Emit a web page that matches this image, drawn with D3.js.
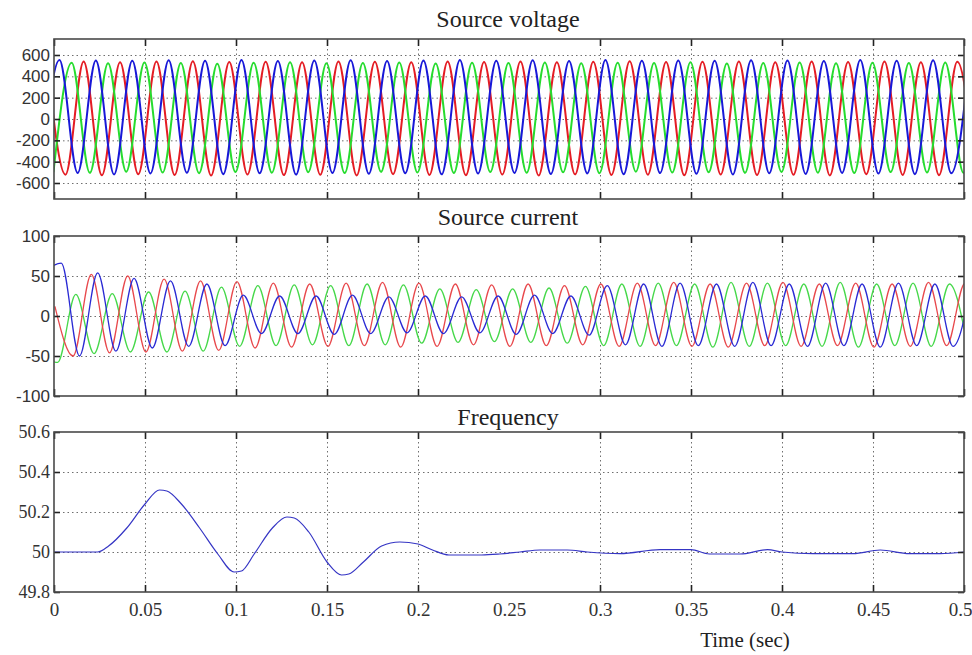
<!DOCTYPE html>
<html>
<head>
<meta charset="utf-8">
<script src="https://cdn.jsdelivr.net/npm/d3@7"></script>
<style>
  body { margin: 0; background: #fff; }
  svg { display: block; }
  .frame { fill: none; stroke: #4a4a4a; stroke-width: 1.6; }
  .grid line { stroke: #6f6f6f; stroke-width: 1; stroke-dasharray: 1.5,3; }
  .grid path, .ticks path { display: none; }
  .ticks line { stroke: #222; stroke-width: 1.6; }
  .title { font-family: "Liberation Serif", serif; font-size: 24px; fill: #222; }
  .sans text { font-family: "Liberation Sans", sans-serif; font-size: 17px; fill: #333; }
  .serif text { font-family: "Liberation Serif", serif; font-size: 18px; fill: #333; }
  .xlab text { font-family: "Liberation Serif", serif; font-size: 19px; fill: #333; }
  .wave { fill: none; stroke-linejoin: round; }
</style>
</head>
<body>
<script>
  // x axis (time, s)
  var timeTicks = [0, 0.05, 0.1, 0.15, 0.2, 0.25, 0.3, 0.35, 0.4, 0.45, 0.5];
  var timeLabels = ["0", "0.05", "0.1", "0.15", "0.2", "0.25", "0.3", "0.35", "0.4", "0.45", "0.5"];
  // the original plot has no tick / grid line drawn at 0.25
  var timeMarks = [0, 0.05, 0.1, 0.15, 0.2, 0.3, 0.35, 0.4, 0.45, 0.5];

  var voltTicks = [-600, -400, -200, 0, 200, 400, 600];
  var currTicks = [-100, -50, 0, 50, 100];
  var freqTicks = [49.8, 50, 50.2, 50.4, 50.6];

  // extremes of each phase come every half cycle (50 Hz)
  var halfCycle = 0.01;

  // source voltage: first extreme time + successive peak/trough values
  var voltBlueT0 = -0.007;
  var voltBlue = [-512, 552, -506, 548, -520, 545, -510, 550, -504, 546, -517, 553, -509, 544,
    -521, 549, -507, 551, -514, 543, -509, 548, -519, 552, -511, 546, -506, 550, -516, 544,
    -510, 553, -518, 547, -507, 549, -513, 545, -520, 551, -509, 548, -515, 544, -506, 552,
    -512, 546, -517, 550, -508, 547];
  var voltGreenT0 = -0.0003;
  var voltGreen = [-498, 528, -505, 522, -494, 530, -502, 525, -508, 519, -496, 527, -503, 531,
    -499, 523, -507, 526, -495, 529, -501, 521, -506, 528, -497, 524, -504, 530, -500, 522,
    -508, 527, -494, 525, -502, 531, -499, 520, -505, 526, -496, 529, -503, 523, -507, 527,
    -498, 524, -501, 530, -504, 525];
  var voltRedT0 = -0.0037;
  var voltRed = [535, -522, 540, -528, 532, -518, 538, -525, 541, -530, 534, -520, 537, -526,
    531, -523, 539, -529, 536, -517, 533, -524, 540, -527, 535, -521, 538, -530, 532, -519,
    537, -525, 541, -522, 534, -528, 536, -520, 539, -526, 533, -523, 538, -529, 535, -518,
    540, -524, 532, -527, 537, -521];

  // source current
  var currBlueT0 = -0.006;
  var currBlue = [55, 66, -50, 54, -44, 47, -40, 44, -38, 40, -37, 26, -22, 25, -22, 25, -23, 26,
    -22, 24, -21, 25, -22, 24, -21, 25, -23, 26, -22, 25, -24, 38, -36, 40, -38, 41, -37, 40,
    -38, 42, -37, 40, -38, 41, -37, 40, -39, 41, -37, 40, -38, 40];
  var currRedT0 = 0.0005;
  var currRed = [12, -50, 52, -46, 50, -45, 46, -44, 44, -43, 43, -40, 41, -39, 40, -38, 41, -37,
    42, -39, 41, -38, 40, -36, 39, -38, 40, -37, 38, -36, 40, -38, 41, -37, 42, -38, 40, -39,
    41, -37, 42, -38, 40, -37, 41, -39, 40, -38, 42, -37, 41, -38];
  var currGreenT0 = -0.008;
  var currGreen = [-48, -58, 27, -47, 28, -45, 30, -45, 31, -44, 36, -38, 38, -37, 39, -36, 38, -37,
    40, -36, 39, -34, 34, -33, 33, -32, 34, -33, 35, -34, 37, -37, 40, -38, 41, -37, 40, -39,
    42, -38, 41, -37, 40, -38, 42, -39, 40, -37, 41, -38, 40, -38];

  // frequency (Hz)
  var freqTime = [0, 0.024, 0.03, 0.04, 0.05, 0.058, 0.062, 0.07, 0.08, 0.09, 0.099, 0.103, 0.11,
    0.12, 0.128, 0.132, 0.14, 0.15, 0.158, 0.162, 0.17, 0.18, 0.19, 0.2, 0.208, 0.217, 0.235,
    0.245, 0.256, 0.267, 0.282, 0.293, 0.311, 0.333, 0.35, 0.36, 0.377, 0.392, 0.4, 0.417,
    0.439, 0.454, 0.47, 0.487, 0.5];
  var freqValue = [50, 50, 50.03, 50.12, 50.24, 50.31, 50.305, 50.24, 50.12, 49.99, 49.9, 49.905,
    49.99, 50.12, 50.175, 50.17, 50.1, 49.95, 49.885, 49.89, 49.95, 50.03, 50.05, 50.04, 50.01,
    49.985, 49.985, 49.99, 50.0, 50.01, 50.01, 50.0, 49.992, 50.012, 50.012, 49.99, 49.99,
    50.012, 50.0, 49.992, 49.992, 50.01, 49.992, 49.992, 50.0];

  var w = 972;
  var h = 655;
  var left = 54;
  var width = 910;
  var height = 160;

  var svg = d3.select("body").append("svg")
              .attr("width", w)
              .attr("height", h);

  var x = d3.scaleLinear().domain([0, 0.5]).range([0, width]);

  function extremes(t0, vals) {
    return vals.map(function(v, i){ return [t0 + i * halfCycle, v]; });
  }

  function plot(params) {
    var y = d3.scaleLinear().domain(params.domain).range([height, 0]);
    var g = svg.append("g")
               .attr("transform", "translate(" + left + "," + params.top + ")");

    g.append("clipPath").attr("id", params.id)
      .append("rect").attr("width", width).attr("height", height);

    // grid
    g.append("g").classed("grid", true)
      .call(d3.axisLeft(y).tickValues(params.grid).tickSize(-width).tickFormat(""));
    g.append("g").classed("grid", true)
      .attr("transform", "translate(0," + height + ")")
      .call(d3.axisBottom(x).tickValues(timeMarks.slice(1, -1)).tickSize(-height).tickFormat(""));

    var line = d3.line()
                 .x(function(d){ return x(d[0]); })
                 .y(function(d){ return y(d[1]); })
                 .curve(d3.curveMonotoneX);

    var lines = g.append("g").attr("clip-path", "url(#" + params.id + ")");
    params.series.forEach(function(s){
      lines.append("path")
        .classed("wave", true)
        .attr("d", line(s.points))
        .attr("stroke", s.color)
        .attr("stroke-width", s.width);
    });

    // box ticks, pointing inward
    g.append("g").classed("ticks", true).classed(params.font, true)
      .call(d3.axisLeft(y).tickValues(params.ticks).tickSizeInner(-6).tickSizeOuter(0)
              .tickPadding(4).tickFormat(function(d){ return String(d); }));
    g.append("g").classed("ticks", true)
      .attr("transform", "translate(" + width + ",0)")
      .call(d3.axisRight(y).tickValues(params.ticks).tickSize(-6).tickFormat(""));
    g.append("g").classed("ticks", true)
      .call(d3.axisTop(x).tickValues(timeMarks).tickSize(-7).tickFormat(""));
    g.append("g").classed("ticks", true)
      .attr("transform", "translate(0," + height + ")")
      .call(d3.axisBottom(x).tickValues(timeMarks).tickSize(-7).tickFormat(""));

    if (params.xLabels) {
      var labels = g.append("g").classed("xlab", true)
        .attr("transform", "translate(0," + height + ")")
        .call(d3.axisBottom(x).tickValues(timeTicks).tickSize(0).tickPadding(11)
                .tickFormat(function(d, i){ return timeLabels[i]; }));
      labels.select(".domain").remove();
      labels.selectAll("line").remove();
      // keep the last label inside the page
      labels.selectAll("text").filter(function(d){ return d === 0.5; })
        .attr("text-anchor", "end").attr("dx", 8);
    }

    g.append("rect").classed("frame", true)
      .attr("width", width).attr("height", height);

    g.append("text").classed("title", true)
      .attr("x", width / 2 - 1)
      .attr("y", params.titleY)
      .attr("text-anchor", "middle")
      .text(params.title);
  }

  plot({
    id: "clipV", top: 39, domain: [-750, 750], ticks: voltTicks, grid: voltTicks,
    font: "sans", title: "Source voltage", titleY: -12,
    series: [
      {points: extremes(voltRedT0, voltRed), color: "#e41c24", width: 2},
      {points: extremes(voltGreenT0, voltGreen), color: "#26dc2e", width: 2},
      {points: extremes(voltBlueT0, voltBlue), color: "#1818d8", width: 2}
    ]
  });

  plot({
    id: "clipI", top: 236, domain: [-100, 100], ticks: currTicks, grid: [-50, 0, 50],
    font: "sans", title: "Source current", titleY: -11,
    series: [
      {points: extremes(currGreenT0, currGreen), color: "#46d84a", width: 1.3},
      {points: extremes(currRedT0, currRed), color: "#e8484c", width: 1.3},
      {points: extremes(currBlueT0, currBlue), color: "#2a2ad4", width: 1.3}
    ]
  });

  plot({
    id: "clipF", top: 432, domain: [49.8, 50.6], ticks: freqTicks, grid: [50, 50.2, 50.4],
    font: "serif", title: "Frequency", titleY: -7, xLabels: true,
    series: [
      {points: freqTime.map(function(t, i){ return [t, freqValue[i]]; }), color: "#3535c4", width: 1.2}
    ]
  });

  svg.append("text")
     .classed("title", true)
     .style("font-size", "21px")
     .attr("x", 745)
     .attr("y", 647)
     .attr("text-anchor", "middle")
     .text("Time (sec)");
</script>
</body>
</html>
